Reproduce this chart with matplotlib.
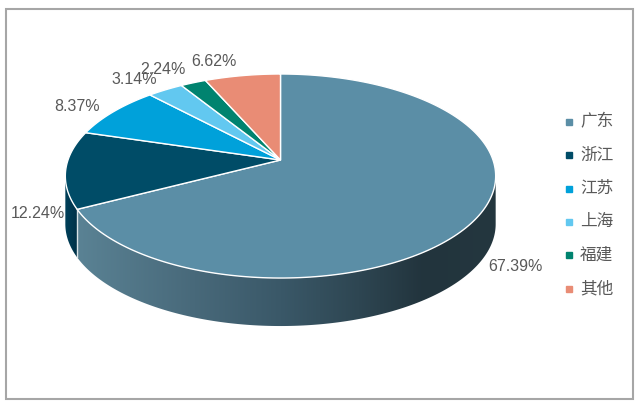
import numpy as np
import matplotlib.pyplot as plt
from matplotlib.patches import Polygon, Rectangle
from matplotlib.colors import LinearSegmentedColormap

plt.rcParams['font.family'] = ['Liberation Sans', 'Noto Sans CJK SC', 'DejaVu Sans']

# 数据
regions = ['广东', '浙江', '江苏', '上海', '福建', '其他']
shares = [67.39, 12.24, 8.37, 3.14, 2.24, 6.62]
labels = ['67.39%', '12.24%', '8.37%', '3.14%', '2.24%', '6.62%']
colors = ['#5B8EA6', '#004C67', '#00A1DA', '#62C8F0', '#00836F', '#E98C75']

# 版面 (像素坐标)
cx, cy = 280.5, 160.0      # 圆心投影
A, B, k = 212.5, 99.5, 0.157  # 透视参数
depth = 48.0
label_offsets = [(37, 50), (-28, 44), (-36, -5), (-31, -10), (-30, -13), (-29, -14)]


def rim(t_deg):
    t = np.radians(t_deg)
    u, v = np.cos(t), np.sin(t)
    w = 1 + k * v
    return cx + A * u / w, cy - B * v / w


fig = plt.figure(figsize=(6.38, 4.05), dpi=100)
ax = fig.add_axes([0, 0, 1, 1])
ax.axis('off')

# 扇区角度 (从12点顺时针)
fr = np.array(shares) / sum(shares)
ends = 90 - np.cumsum(fr) * 360
starts = np.concatenate([[90], ends[:-1]])

# 侧面 (可见范围 189° ~ 351°)
t_left = 180 + np.degrees(np.arcsin(k))
t_right = 360 - np.degrees(np.arcsin(k))
side_cmap = LinearSegmentedColormap.from_list(
    'side', [(0, '#5C8597'), (0.3, '#48697A'), (0.5, '#3A5868'),
             (0.68, '#2E4652'), (0.83, '#22343D'), (1, '#24373F')])
jz_cmap = LinearSegmentedColormap.from_list('jz', ['#00405A', '#003248'])

for i in range(len(shares)):
    a0 = starts[i] % 360
    a1 = ends[i] % 360
    lo, hi = min(a0, a1), max(a0, a1)
    if starts[i] > 0 and ends[i] < 0:
        lo, hi = ends[i] + 360, 360
    lo, hi = max(lo, t_left), min(hi, t_right)
    if hi <= lo:
        continue
    ts = np.linspace(lo, hi, 200)
    xs, ys = rim(ts)
    pts = np.column_stack([np.concatenate([xs, xs[::-1]]),
                           np.concatenate([ys, ys[::-1] + depth])])
    poly = Polygon(pts, closed=True, facecolor='none', edgecolor='none')
    ax.add_patch(poly)
    grad = np.linspace(0, 1, 256).reshape(1, -1)
    cmap = side_cmap if i == 0 else jz_cmap
    x0, x1 = (cx - A * 1.02, cx + A * 1.02) if i == 0 else (xs.min(), xs.max())
    im = ax.imshow(grad, cmap=cmap, aspect='auto',
                   extent=(x0, x1, ys.max() + depth + 2, ys.min() - 2),
                   interpolation='bilinear', zorder=1)
    im.set_clip_path(poly)

# 侧面分界线
bx, by = rim(ends[0] + 360)
ax.plot([bx, bx], [by, by + depth], color='#D8E2E6', lw=1, zorder=2)

# 顶面
for i in range(len(shares)):
    ts = np.linspace(starts[i], ends[i], 200)
    xs, ys = rim(ts)
    pts = np.column_stack([np.concatenate([[cx], xs]), np.concatenate([[cy], ys])])
    ax.add_patch(Polygon(pts, closed=True, facecolor=colors[i],
                         edgecolor='white', lw=1, zorder=3))

# 数据标签
for i, lab in enumerate(labels):
    mx, my = rim((starts[i] + ends[i]) / 2)
    dx, dy = label_offsets[i]
    ax.text(mx + dx, my + dy, lab, fontsize=11.5, color='#595959',
            ha='center', va='center', zorder=5)

# 图例
for i, name in enumerate(regions):
    y = 122 + i * 33.3
    ax.plot(569, y, marker='s', ms=4, color=colors[i], ls='none')
    ax.text(580, y, name, fontsize=12, color='#595959', va='center', ha='left',
            family=['Noto Sans CJK SC', 'DejaVu Sans'])

# 外框
ax.add_patch(Rectangle((5.5, 9), 627.5, 390, facecolor='none',
                       edgecolor='#A6A6A6', lw=1.5, zorder=6))

ax.set_xlim(0, 638)
ax.set_ylim(405, 0)
fig.savefig('out.png', dpi=100)
